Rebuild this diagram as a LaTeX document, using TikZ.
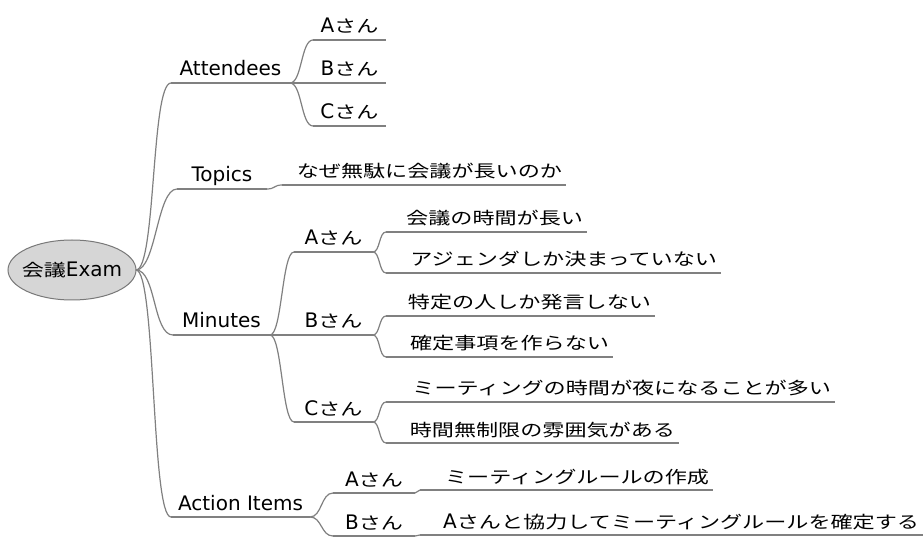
\documentclass[tikz,border=0pt]{standalone}
\usepackage{fontspec}
\setmainfont{DejaVu Sans}
\newfontfamily\jp[FakeStretch=1.3,Scale=0.85]{Noto Sans CJK JP}
\usetikzlibrary{shapes.geometric}
\definecolor{linegray}{RGB}{128,128,128}
\definecolor{rootfill}{RGB}{214,214,214}
\definecolor{rootborder}{RGB}{120,120,120}
% centred label with underline
\newcommand\mmc[5]{\node[mm,anchor=south west] (#1) at (#2,#4) {\hbox to \dimexpr #3pt-#2pt-8pt\relax{\hss #5\hss}};}
% right-aligned label with underline
\newcommand\mmr[5]{\node[mm,anchor=south west] (#1) at (#2,#4) {\hbox to \dimexpr #3pt-#2pt-8pt\relax{\hss #5}};}
\begin{document}
\begin{tikzpicture}[x=1pt,y=-1pt,
  line/.style={draw=linegray, line width=1.2pt},
  conn/.style={line, out=0, in=180, distance=#1},
  conn/.default=12pt,
  mm/.style={font=\fontsize{20pt}{24pt}\selectfont, inner xsep=4pt, inner ysep=2pt,
     text height=15pt, text depth=5pt, outer sep=0pt},
  rootnode/.style={ellipse, draw=rootborder, fill=rootfill, line width=1pt,
     minimum width=128pt, minimum height=60pt, inner sep=0pt, outer sep=0pt,
     font=\fontsize{20pt}{24pt}\selectfont, text height=13pt, text depth=0pt}]
\fill[white] (0,0) rectangle (924,537);
\useasboundingbox (0,0) rectangle (924,537);

\node[rootnode] (root) at (72,270) {\hbox to 90pt{\hss{\jp 会議}Exam\hss}};

\mmc{att}{171}{290}{83}{Attendees}
\mmc{att-a}{313}{386}{40}{A{\jp さん}}
\mmc{att-b}{313}{386}{83}{B{\jp さん}}
\mmc{att-c}{313}{386}{126}{C{\jp さん}}
\mmc{top}{177}{267}{189}{Topics}
\mmr{top-1}{282}{566}{185}{\jp なぜ無駄に会議が長いのか}
\mmc{min}{173}{270}{335}{Minutes}
\mmc{min-a}{294}{373}{252}{A{\jp さん}}
\mmc{min-b}{294}{373}{335}{B{\jp さん}}
\mmc{min-c}{294}{373}{422}{C{\jp さん}}
\mmr{min-a1}{386}{587}{232}{\jp 会議の時間が長い}
\mmr{min-a2}{386}{721}{273}{\jp アジェンダしか決まっていない}
\mmr{min-b1}{386}{655}{316}{\jp 特定の人しか発言しない}
\mmr{min-b2}{386}{613}{357}{\jp 確定事項を作らない}
\mmr{min-c1}{386}{835}{402}{\jp ミーティングの時間が夜になることが多い}
\mmr{min-c2}{386}{679}{443}{\jp 時間無制限の雰囲気がある}
\mmc{act}{171}{310}{517}{Action Items}
\mmc{act-a}{333}{415}{493}{A{\jp さん}}
\mmc{act-b}{333}{415}{536}{B{\jp さん}}
\mmr{act-a1}{420}{713}{490}{\jp ミーティングルールの作成}
\mmr{act-b1}{420}{923}{535}{A{\jp さんと協力してミーティングルールを確定する}}

% underlines
\foreach \n in {att,att-a,att-b,att-c,top,top-1,min,min-a,min-b,min-c,
  min-a1,min-a2,min-b1,min-b2,min-c1,min-c2,act,act-a,act-b,act-a1,act-b1}
  \draw[line] (\n.south west) -- (\n.south east);

% connectors
\foreach \t in {att,top,min,act}
  \draw[conn=20pt] (root.east) to (\t.south west);
\foreach \t in {att-a,att-b,att-c}
  \draw[conn=12pt] (att.south east) to (\t.south west);
\draw[conn=8pt] (top.south east) to (top-1.south west);
\foreach \t in {min-a,min-b,min-c}
  \draw[conn=12pt] (min.south east) to (\t.south west);
\foreach \t in {min-a1,min-a2}
  \draw[conn=7pt] (min-a.south east) to (\t.south west);
\foreach \t in {min-b1,min-b2}
  \draw[conn=7pt] (min-b.south east) to (\t.south west);
\foreach \t in {min-c1,min-c2}
  \draw[conn=7pt] (min-c.south east) to (\t.south west);
\foreach \t in {act-a,act-b}
  \draw[conn=12pt] (act.south east) to (\t.south west);
\draw[conn=3pt] (act-a.south east) to (act-a1.south west);
\draw[conn=3pt] (act-b.south east) to (act-b1.south west);
\end{tikzpicture}
\end{document}
